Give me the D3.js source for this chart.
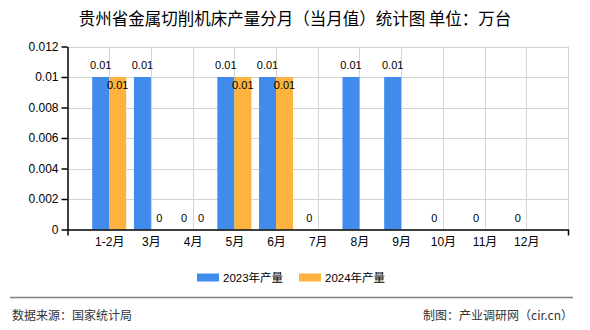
<!DOCTYPE html>
<html><head><meta charset="utf-8">
<script src="https://cdn.jsdelivr.net/npm/d3@7"></script>
<style>
html,body{margin:0;padding:0;background:#fff;}
svg{display:block;}
</style>
</head><body>
<svg id="c" width="590" height="330"></svg>
<script>
const title = "贵州省金属切削机床产量分月（当月值）统计图 单位：万台";
const categories = ["1-2月","3月","4月","5月","6月","7月","8月","9月","10月","11月","12月"];
const series2023 = [0.01,0.01,0,0.01,0.01,0,0.01,0.01,0,0,0];
const series2024 = [0.01,0,0,0.01,0.01,null,null,null,null,null,null];
const seriesNames = ["2023年产量","2024年产量"];
const yTicks = [0,0.002,0.004,0.006,0.008,0.01,0.012];
const yTickLabels = ["0","0.002","0.004","0.006","0.008","0.01","0.012"];
const sourceText = "数据来源：国家统计局";
const creditText = "制图：产业调研网（cir.cn）";

const colors = ["#418bed","#fdb43f"];
const fontCJK = "'Liberation Sans','Noto Sans CJK SC',sans-serif";

const svg = d3.select("#c");
const pLeft = 67.5, pRight = 568, pTop = 46.5, pBottom = 229.5;

const x = d3.scaleLinear().domain([0, categories.length + 1]).range([pLeft, pRight]);
const y = d3.scaleLinear().domain([0, 0.012]).range([pBottom, pTop]);
const barW = 17;

// title
svg.append("text").attr("x", 295).attr("y", 25).attr("text-anchor","middle")
  .style("font-family","'Noto Sans CJK SC',sans-serif").style("font-size","16.5px").attr("fill","#000")
  .text(title);

// horizontal grid
svg.append("g").selectAll("line").data(yTicks.slice(1)).join("line")
  .attr("x1", pLeft).attr("x2", pRight).attr("y1", d => Math.round(y(d))+0.5).attr("y2", d => Math.round(y(d))+0.5)
  .attr("stroke","#d4d4d4").attr("stroke-width",1);
// vertical grid
svg.append("g").selectAll("line").data(categories.map((c,i)=>i+1).concat([categories.length+1])).join("line")
  .attr("x1", d => Math.round(x(d))+0.5).attr("x2", d => Math.round(x(d))+0.5).attr("y1", pTop).attr("y2", pBottom)
  .attr("stroke","#d4d4d4").attr("stroke-width",1);

// bars
const all = [series2023, series2024];
all.forEach((ser, si) => {
  const g = svg.append("g");
  ser.forEach((v, i) => {
    if (v === null) return;
    const cx = x(i+1);
    const bx = si === 0 ? cx - barW : cx;
    if (v > 0) {
      g.append("rect").attr("x", bx).attr("y", y(v)).attr("width", barW).attr("height", y(0)-y(v))
        .attr("fill", colors[si]);
    }
  });
});
// labels
all.forEach((ser, si) => {
  ser.forEach((v, i) => {
    if (v === null) return;
    const cx = x(i+1);
    const lx = si === 0 ? cx - barW/2 : cx + barW/2;
    const ly = (si === 1 && v > 0) ? y(v) + 12 : y(v) - 8;
    svg.append("text").attr("x", lx).attr("y", ly).attr("text-anchor","middle")
      .style("font-family","'Liberation Sans',sans-serif").style("font-size","11px").attr("fill","#000")
      .text(v === 0 ? "0" : d3.format(".2f")(v).replace(/0$/,""));
  });
});

// y axis
const yAxis = d3.axisLeft(y).tickValues(yTicks).tickFormat((d,i)=>yTickLabels[i]).tickSize(6).tickSizeOuter(0).tickPadding(3);
const gy = svg.append("g").attr("transform",`translate(${pLeft},0)`).call(yAxis);
gy.select(".domain").attr("stroke","#000").attr("stroke-width",1.5);
gy.selectAll(".tick line").attr("stroke","#000").attr("stroke-width",1.5);
gy.selectAll("text").style("font-family","'Liberation Sans',sans-serif").style("font-size","12px").attr("fill","#000");

// x axis
const xAxis = d3.axisBottom(x).tickValues(categories.map((c,i)=>i+1)).tickFormat((d,i)=>categories[i]).tickSizeInner(0).tickSizeOuter(6).tickPadding(8);
const gx = svg.append("g").attr("transform",`translate(0,${pBottom})`).call(xAxis);
gx.select(".domain").attr("stroke","#000").attr("stroke-width",1.5);
gx.selectAll("text").style("font-family",fontCJK).style("font-size","12px").attr("fill","#000");

// legend
const legX = [197, 299];
seriesNames.forEach((n, i) => {
  svg.append("rect").attr("x", legX[i]).attr("y", 273.5).attr("width", 22).attr("height", 8).attr("fill", colors[i]);
  svg.append("text").attr("x", legX[i] + 26).attr("y", 281.5)
    .style("font-family",fontCJK).style("font-size","11.5px").attr("fill","#000").text(n);
});

// footer
svg.append("line").attr("x1",10).attr("x2",573).attr("y1",297.5).attr("y2",297.5).attr("stroke","#808080").attr("stroke-width",1.5);
svg.append("text").attr("x",12).attr("y",320).style("font-family","'Noto Sans CJK SC',sans-serif").style("font-size","12px").attr("fill","#333").text(sourceText);
svg.append("text").attr("x",573).attr("y",320).attr("text-anchor","end").style("font-family","'Noto Sans CJK SC',sans-serif").style("font-size","12px").attr("fill","#333").text(creditText);
</script>
</body></html>
